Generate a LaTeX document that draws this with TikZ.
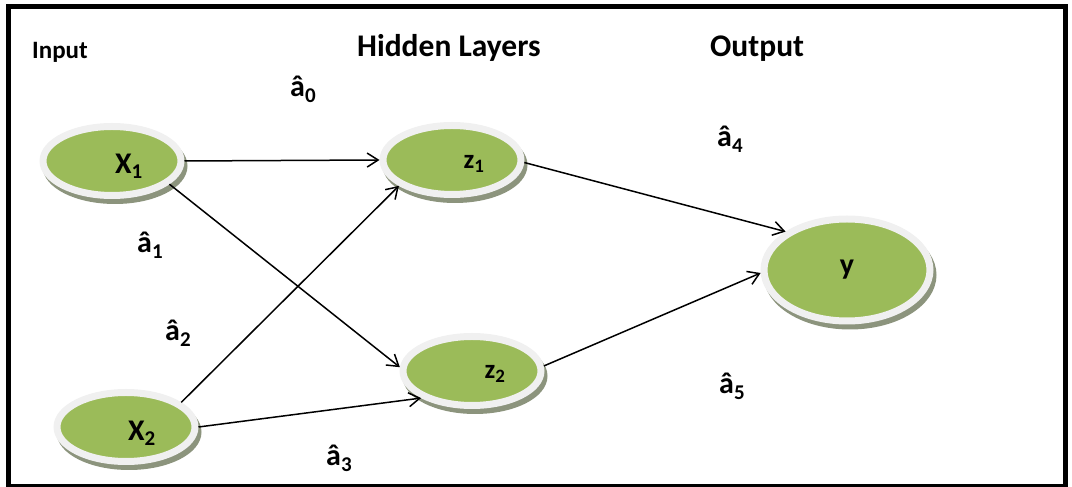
\documentclass[tikz,border=0pt]{standalone}
\usepackage{fontspec}
\setmainfont{Carlito}
\usetikzlibrary{positioning,arrows.meta,shapes.geometric,shadows}

\definecolor{nodegreen}{RGB}{155,187,89}
\definecolor{ringgray}{RGB}{240,240,240}
\definecolor{shadowgray}{RGB}{140,148,125}

\begin{document}
\begin{tikzpicture}[
  x=1pt, y=1pt,
  neuron/.style={ellipse, fill=nodegreen, draw=ringgray, line width=7pt, inner sep=0pt,
    minimum width=138pt, minimum height=69pt,
    general shadow={fill=shadowgray, draw=shadowgray, shadow xshift=3pt, shadow yshift=-5pt}},
  head/.style={font=\bfseries\fontsize{31.5}{33}\selectfont, anchor=base west, inner sep=0pt},
  weight/.style={font=\bfseries\fontsize{30}{32}\selectfont, anchor=base west, inner sep=0pt},
  ntext/.style={font=\bfseries\fontsize{30}{32}\selectfont, inner sep=0pt},
  link/.style={-{Straight Barb[length=11pt,width=14pt]}, line width=1.5pt}
]
\useasboundingbox (0,0) rectangle (1072,487);

% frame
\draw[line width=5pt] (8,0.5) rectangle (1065,480.5);

% layer titles
\node[head, font=\bfseries\fontsize{25}{26}\selectfont] (tin) at (32,428) {Input};
\node[head] (thid) at (357,430) {Hidden Layers};
\node[head] (tout) at (710,430) {Output};

% input layer
\node[neuron] (x1) at (112,326) {};
\node[neuron] (x2) at (126,60) {};
\node[ntext, xshift=17pt, yshift=-5pt] (x1t) at (x1) {X\textsubscript{1}};
\node[ntext, xshift=16pt, yshift=-6pt] (x2t) at (x2) {X\textsubscript{2}};

% hidden layer
\node[neuron] (z1) at (452,327) {};
\node[neuron] (z2) at (472,116) {};
\node[ntext, font=\bfseries\fontsize{27}{29}\selectfont, xshift=22pt, yshift=-4pt] (z1t) at (z1) {z\textsubscript{1}};
\node[ntext, font=\bfseries\fontsize{27}{29}\selectfont, xshift=23pt, yshift=-3pt] (z2t) at (z2) {z\textsubscript{2}};

% output
\node[neuron, minimum width=166pt, minimum height=102pt] (y) at (847,217) {};
\node[ntext] (yt) at (y) {y};

% weights
\node[weight] (a0) at (290,390) {â\textsubscript{0}};
\node[weight] (a1) at (137,234) {â\textsubscript{1}};
\node[weight] (a2) at (165,146) {â\textsubscript{2}};
\node[weight] (a3) at (326,21) {â\textsubscript{3}};
\node[weight] (a4) at (717,340) {â\textsubscript{4}};
\node[weight] (a5) at (719,93) {â\textsubscript{5}};

% connections
\draw[link] (x1.east) -- (z1.west);
\draw[link] (x1.-22) -- (z2.177);
\draw[link] (x2.24) -- (z1.-154);
\draw[link] (x2.east) -- (z2.-152);
\draw[link] (z1.-2) -- (y.148);
\draw[link] (z2.4) -- (y.182);

\end{tikzpicture}
\end{document}
